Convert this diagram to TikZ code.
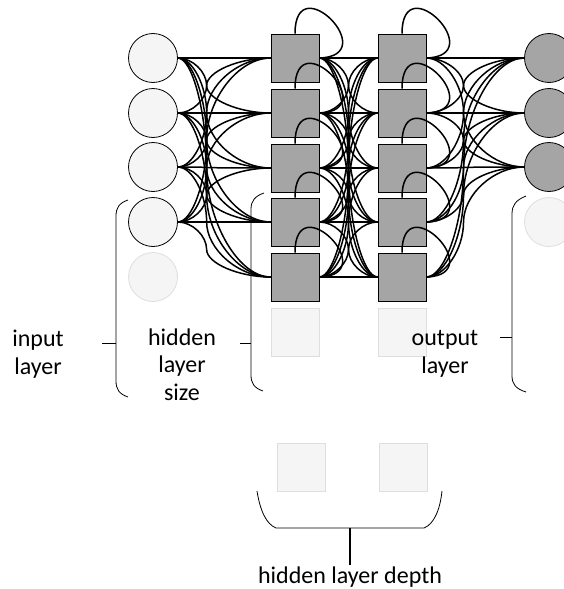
\documentclass[tikz,border=0pt]{standalone}
\usepackage{fontspec}
\setmainfont{Carlito}
\usepackage{tikz}
\usetikzlibrary{calc}
\definecolor{unitgray}{HTML}{A5A5A5}
\definecolor{ghostfill}{HTML}{F5F5F5}
\definecolor{ghostline}{HTML}{DEDEDE}
\tikzset{
  neuron/.style={circle,draw=black,line width=0.8pt,minimum size=49pt,inner sep=0pt},
  cell/.style={rectangle,draw=black,line width=0.8pt,minimum size=48pt,inner sep=0pt,fill=unitgray},
  ghost/.style={draw=ghostline,fill=ghostfill},
  conn/.style={line width=1.5pt},
  brace/.style={line width=0.8pt},
  lbl/.style={align=center,font=\fontsize{24}{27.5}\selectfont,inner sep=0pt},
  % curved connector: horizontal ends, vertical in the middle at fraction #1
  curvy/.style={to path={
    let \p1=(\tikztostart), \p2=(\tikztotarget),
        \n1={\x1+#1*(\x2-\x1)}, \n2={0.5*(\y1+\y2)} in
    .. controls ({0.5*(\x1+\n1*1pt)},\y1) and ({\n1*1pt},{0.75*\y1+0.25*\y2}) .. ({\n1*1pt},{\n2*1pt})
    .. controls ({\n1*1pt},{0.25*\y1+0.75*\y2}) and ({0.5*(\n1*1pt+\x2)},\y2) .. (\tikztotarget)}}
}

\begin{document}
\begin{tikzpicture}[x=1pt,y=-1pt]
	\clip (0,0) rectangle (564,589);
	% input layer
	\foreach \i/\y in {1/58,2/113,3/167,4/222}
		\node[neuron,fill=ghostfill] (in\i) at (153,\y) {};
	\node[neuron,ghost] (in5) at (153,277) {};
	% two hidden layers
	\foreach \j/\y in {1/58,2/113,3/168,4/222,5/277}{
		\node[cell] (hA\j) at (295,\y) {};
		\node[cell] (hB\j) at (402,\y) {};
	}
	\node[cell,ghost] (hA6) at (295,332) {};
	\node[cell,ghost] (hB6) at (402,332) {};
	% output layer
	\foreach \k/\y in {1/58,2/113,3/167}
		\node[neuron,fill=unitgray] (out\k) at (549,\y) {};
	\node[neuron,ghost] (out4) at (549,222) {};
	% depth
	\node[cell,ghost] (dA) at (301,467) {};
	\node[cell,ghost] (dB) at (403,467) {};

	% connections
	\foreach \i in {1,...,4}
		\foreach \j in {1,...,5}
			\draw[conn] (in\i.east) to[curvy=0.31] (hA\j.west);
	\foreach \j in {1,...,5}
		\foreach \k in {1,...,5}
			\draw[conn] (hA\j.east) to[curvy=0.5] (hB\k.west);
	\foreach \j in {1,...,5}
		\foreach \k in {1,2,3}
			\draw[conn] (hB\j.east) to[curvy=0.38] (out\k.west);
	% recurrent loops
	\foreach \j in {1,...,5}{
		\draw[conn] (hA\j.north) .. controls +(0,-68) and +(64,-2) .. (hA\j.east);
		\draw[conn] (hB\j.north) .. controls +(0,-68) and +(64,-2) .. (hB\j.east);
	}

	% braces and labels
	\draw[brace] (128,200) .. controls (119,203) and (116,208) .. (116,216) -- (116,381) .. controls (116,389) and (119,394) .. (128,397);
	\draw[brace] (102,343) -- (116,343);
	\node[lbl,anchor=base] (inlbl) at (38,374) {input\\layer};

	\draw[brace] (264,193) .. controls (255,196) and (251,201) .. (251,209) -- (251,375) .. controls (251,383) and (254,388) .. (263,391);
	\draw[brace] (240,343) -- (251,343);
	\node[lbl,anchor=base] (hidlbl) at (182,400) {hidden\\layer\\size};

	\draw[brace] (526,196) .. controls (516,200) and (512,205) .. (512,214) -- (512,376) .. controls (512,384) and (516,389) .. (526,392);
	\draw[brace] (500,337) -- (512,337);
	\node[lbl,anchor=base] (outlbl) at (445,373) {output\\layer};

	\draw[brace] (257,491) .. controls (260,510) and (266,524) .. (276,528) -- (424,528) .. controls (434,524) and (440,510) .. (442,491);
	\draw[line width=1.4pt] (350,528) -- (350,565);
	\node[lbl,anchor=base] (deplbl) at (350,583) {hidden layer depth};
\end{tikzpicture}
\end{document}
